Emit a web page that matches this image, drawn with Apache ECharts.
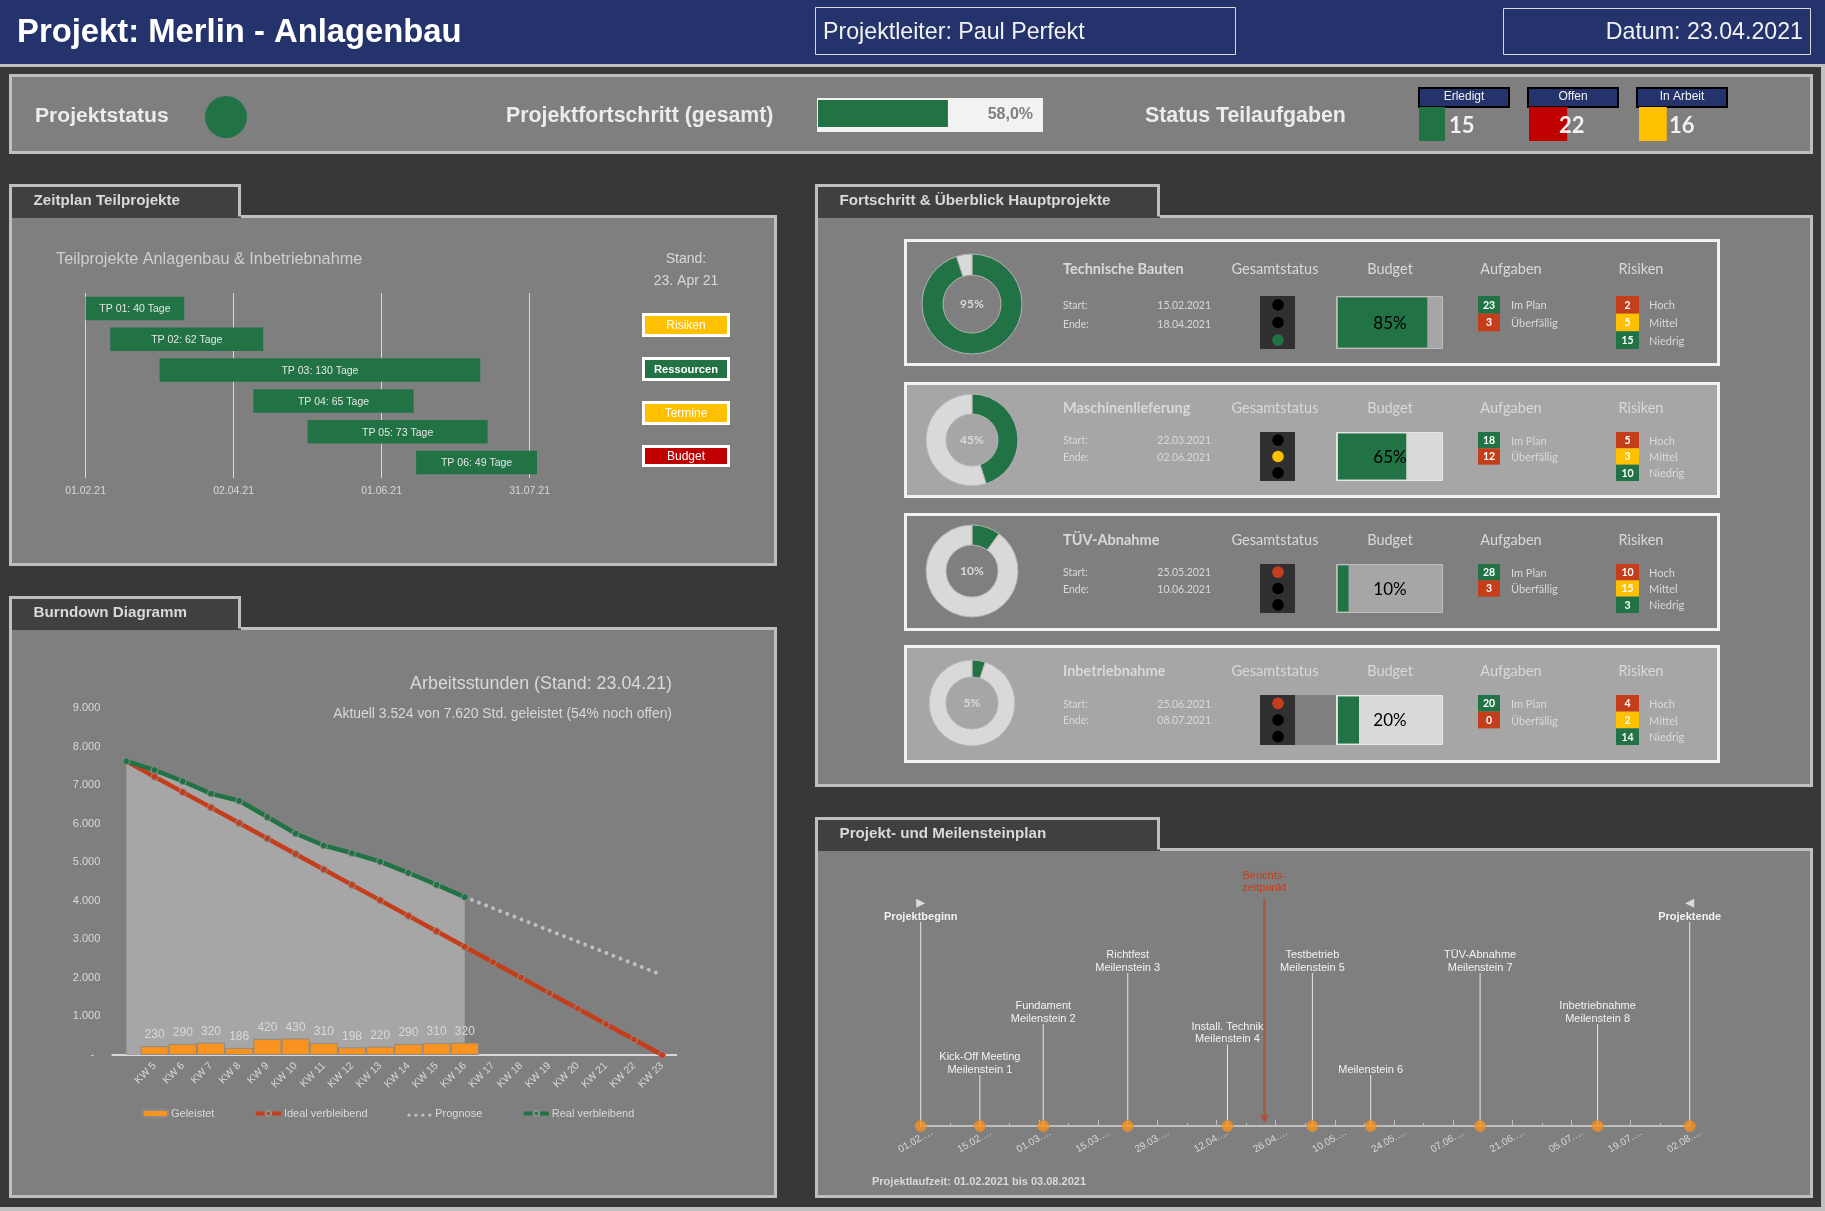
<!DOCTYPE html>
<html>
<head>
<meta charset="utf-8">
<style>
html, body { margin: 0; padding: 0; background: #383838; }
#main { width: 1825px; height: 1211px; }
</style>
<script src="https://cdn.jsdelivr.net/npm/echarts@6/dist/echarts.min.js"></script>
</head>
<body>
<div id="main"></div>
<script>
// Kopfzeile
const projectProgress = 58;
const taskNames = ['Erledigt', 'Offen', 'In Arbeit'];
const taskValues = [15, 22, 16];
const taskTotal = 53;

// Zeitplan
const ganttNames = ['TP 01', 'TP 02', 'TP 03', 'TP 04', 'TP 05', 'TP 06'];
const ganttStart = [0, 10, 30, 68, 90, 134];
const ganttDays = [40, 62, 130, 65, 73, 49];
const ganttTicks = ['01.02.21', '02.04.21', '01.06.21', '31.07.21'];
const ganttTags = ['Risiken', 'Ressourcen', 'Termine', 'Budget'];

// Burndown
const weeks = ['', 'KW 5', 'KW 6', 'KW 7', 'KW 8', 'KW 9', 'KW 10', 'KW 11', 'KW 12', 'KW 13', 'KW 14', 'KW 15', 'KW 16', 'KW 17', 'KW 18', 'KW 19', 'KW 20', 'KW 21', 'KW 22', 'KW 23'];
const doneHours = [null, 230, 290, 320, 186, 420, 430, 310, 198, 220, 290, 310, 320];
const idealHours = [7620, 7219, 6818, 6417, 6016, 5615, 5214, 4813, 4412, 4011, 3610, 3209, 2808, 2407, 2006, 1605, 1204, 803, 402, 0];
const realHours = [7620, 7390, 7100, 6780, 6594, 6174, 5744, 5434, 5236, 5016, 4726, 4416, 4096];
const forecastHours = [null, null, null, null, null, null, null, null, null, null, null, null, 4096, 3807, 3518, 3230, 2941, 2652, 2363, 2075];

// Hauptprojekte
const cardNames = ['Technische Bauten', 'Maschinenlieferung', 'TÜV-Abnahme', 'Inbetriebnahme'];
const cardStart = ['15.02.2021', '22.03.2021', '25.05.2021', '25.06.2021'];
const cardEnd = ['18.04.2021', '02.06.2021', '10.06.2021', '08.07.2021'];
const cardProgress = [95, 45, 10, 5];
const cardLight = [2, 1, 0, 0];
const cardBudget = [85, 65, 10, 20];
const tasksPlan = [23, 18, 28, 20];
const tasksLate = [3, 12, 3, 0];
const riskHigh = [2, 5, 10, 4];
const riskMid = [5, 3, 15, 2];
const riskLow = [15, 10, 3, 14];

// Meilensteine
const msDays = [0, 14, 29, 49, 72.6, 92.7, 106.5, 132.4, 160.2, 182];
const msLevels = [4, 1, 2, 3, 1.6, 3, 1, 3, 2, 4];
const msLabels = ['Projektbeginn', 'Kick-Off Meeting\nMeilenstein 1', 'Fundament\nMeilenstein 2', 'Richtfest\nMeilenstein 3', 'Install. Technik\nMeilenstein 4', 'Testbetrieb\nMeilenstein 5', 'Meilenstein 6', 'TÜV-Abnahme\nMeilenstein 7', 'Inbetriebnahme\nMeilenstein 8', 'Projektende'];
const msTicks = ['01.02.…', '15.02.…', '01.03.…', '15.03.…', '29.03.…', '12.04.…', '26.04.…', '10.05.…', '24.05.…', '07.06.…', '21.06.…', '05.07.…', '19.07.…', '02.08.…'];
const reportDay = 81.3;

const GREEN = '#217346', RED = '#c43e1c', DARKRED = '#c00000', YELLOW = '#ffc000', ORANGE = '#f7931e';
const NAVY = '#24336b', LINE = '#bfbfbf', PANEL = '#7f7f7f', SHADE = '#a6a6a6', TEXT = '#d9d9d9';
const ARIAL = '"Liberation Sans", Arial, sans-serif';
const CALIBRI = 'Lato, "Noto Sans", sans-serif';

let grids = [], xAxes = [], yAxes = [], series = [], gfx = [];

function rect(x, y, w, h, fill, stroke, lw, z) {
    gfx.push({
        type: 'rect', silent: true, z: z || 0,
        shape: { x: x, y: y, width: w, height: h },
        style: { fill: fill, stroke: stroke || null, lineWidth: lw || 0 }
    });
}
function txt(x, y, text, size, o) {
    o = o || {};
    gfx.push({
        type: 'text', silent: true, z: 60, x: x, y: y,
        style: {
            text: text, fontSize: size, fill: o.color || TEXT, fontWeight: o.weight || 'normal',
            fontFamily: o.font || ARIAL, align: o.align || 'left', verticalAlign: 'middle'
        }
    });
}
function panel(x1, y1, x2, y2, tabW, title) {
    let tabH = 31;
    rect(x1 + 1.5, y1 + 1.5, x2 - x1 - 3, y2 - y1 - 3, PANEL, LINE, 3);
    if (!title) return;
    rect(x1, y1 - tabH, tabW, tabH + 3, '#404040');
    gfx.push({
        type: 'polyline', silent: true, z: 1,
        shape: { points: [[x1 + 1.5, y1 + 3], [x1 + 1.5, y1 - tabH + 1.5], [x1 + tabW - 1.5, y1 - tabH + 1.5], [x1 + tabW - 1.5, y1 + 1.5]] },
        style: { stroke: LINE, lineWidth: 3, fill: null }
    });
    txt(x1 + 24.5, y1 - tabH / 2 + 1, title, 15.2, { weight: 'bold' });
}
// kleiner waagerechter Balken mit eigener Achse
function miniBar(x, y, w, h, value, max, color, label) {
    let i = grids.length;
    grids.push({ left: x, top: y, width: w, height: h, show: false });
    xAxes.push({ type: 'value', gridIndex: i, min: 0, max: max, show: false });
    yAxes.push({ type: 'category', gridIndex: i, data: [''], show: false });
    series.push({
        type: 'bar', xAxisIndex: i, yAxisIndex: i, silent: true, z: 3, barWidth: h,
        data: [value], itemStyle: { color: color }, label: label || { show: false }
    });
}

function buildHeader() {
    rect(0, 0, 1825, 64, NAVY);
    rect(0, 64, 1825, 3, LINE);
    rect(1821, 67, 4, 1144, LINE);
    rect(0, 1207, 1825, 4, LINE);
    txt(17, 33, 'Projekt: Merlin - Anlagenbau', 32.8, { color: '#fff', weight: 'bold' });
    rect(815.5, 7.5, 420, 47, null, TEXT, 1);
    txt(823, 33, 'Projektleiter: Paul Perfekt', 23.2, { color: '#f2f2f2' });
    rect(1503.5, 8.5, 307, 46, null, TEXT, 1);
    txt(1803, 33, 'Datum: 23.04.2021', 23.2, { color: '#f2f2f2', align: 'right' });

    panel(9, 74, 1813, 154);
    txt(35, 116, 'Projektstatus', 21.1, { weight: 'bold', color: '#ececec' });
    gfx.push({ type: 'circle', silent: true, z: 2, shape: { cx: 226, cy: 117, r: 21 }, style: { fill: GREEN } });
    txt(506, 116, 'Projektfortschritt (gesamt)', 21.3, { weight: 'bold', color: '#ececec' });
    rect(817, 98, 226, 34, '#f2f2f2');
    miniBar(818, 100, 224, 27, projectProgress, 100, GREEN);
    txt(1033, 115, projectProgress + ',0%', 16, { weight: 'bold', color: PANEL, align: 'right' });
    txt(1145, 116, 'Status Teilaufgaben', 21.3, { weight: 'bold', color: '#ececec' });

    let colors = [GREEN, DARKRED, YELLOW];
    let heads = [1419, 1528, 1637];
    let lefts = [1419, 1529, 1639];
    taskNames.forEach((name, i) => {
        rect(heads[i], 88, 90, 19, NAVY, '#000', 2);
        txt(heads[i] + 45, 97, name, 12, { color: '#f2f2f2', align: 'center' });
        miniBar(lefts[i], 107, 92, 34, taskValues[i], taskTotal, colors[i], {
            show: true, position: 'insideLeft', offset: [25, 2], color: '#f2f2f2',
            fontFamily: CALIBRI, fontWeight: 'bold', fontSize: 22
        });
    });
}

function buildGantt() {
    panel(9, 215, 777, 566, 232, 'Zeitplan Teilprojekte');
    txt(56, 260, 'Teilprojekte Anlagenbau & Inbetriebnahme', 16.25, { color: '#cfcfcf' });
    txt(686, 259, 'Stand:', 14, { align: 'center' });
    txt(686, 281, '23. Apr 21', 14, { align: 'center' });
    let fills = [YELLOW, GREEN, YELLOW, DARKRED];
    let tops = [313, 357, 401, 445];
    let heights = [24, 24, 24, 22];
    ganttTags.forEach((t, i) => {
        rect(643.5, tops[i] + 1.5, 85, heights[i] - 3, fills[i], '#fff', 3, 2);
        txt(686, tops[i] + heights[i] / 2 + 0.5, t, i == 1 ? 11.2 : 12, { color: '#fff', align: 'center', weight: i == 1 ? 'bold' : 'normal' });
    });

    let i = grids.length;
    grids.push({ left: 85.6, top: 293, width: 444, height: 185, show: false });
    xAxes.push({
        type: 'value', gridIndex: i, min: 0, max: 180, interval: 60, position: 'bottom',
        axisLine: { show: false }, axisTick: { show: false },
        splitLine: { show: true, lineStyle: { color: TEXT, width: 1 } },
        axisLabel: { color: TEXT, fontSize: 10.5, fontFamily: ARIAL, margin: 8, formatter: v => ganttTicks[v / 60] }
    });
    yAxes.push({ type: 'category', gridIndex: i, inverse: true, data: ganttNames, show: false });
    series.push({
        type: 'bar', xAxisIndex: i, yAxisIndex: i, stack: 'gantt', silent: true, barWidth: 23.5, clip: false,
        data: ganttStart, itemStyle: { color: 'transparent' }
    });
    series.push({
        type: 'bar', xAxisIndex: i, yAxisIndex: i, stack: 'gantt', silent: true, barWidth: 23.5, clip: false,
        data: ganttDays, itemStyle: { color: GREEN },
        label: {
            show: true, position: 'inside', offset: [0, 1], color: '#e6e6e6', fontSize: 10.5, fontFamily: ARIAL,
            formatter: p => ganttNames[p.dataIndex] + ': ' + p.value + ' Tage'
        }
    });
}

function buildBurndown() {
    panel(9, 627, 777, 1198, 232, 'Burndown Diagramm');
    txt(672, 684, 'Arbeitsstunden (Stand: 23.04.21)', 17.85, { align: 'right' });
    txt(672, 714, 'Aktuell 3.524 von 7.620 Std. geleistet (54% noch offen)', 13.9, { align: 'right' });

    let i = grids.length;
    grids.push({ left: 112.3, top: 708, width: 564, height: 347, show: false });
    xAxes.push({
        type: 'category', gridIndex: i, data: weeks,
        axisLine: { show: true, lineStyle: { color: TEXT, width: 2 } },
        axisTick: { show: false },
        axisLabel: { color: TEXT, fontSize: 10.5, fontFamily: ARIAL, rotate: 45, margin: 9, interval: 0 }
    });
    yAxes.push({
        type: 'value', gridIndex: i, min: 0, max: 9000, interval: 1000,
        axisLine: { show: false }, axisTick: { show: false }, splitLine: { show: false },
        axisLabel: {
            color: TEXT, fontSize: 11, fontFamily: ARIAL, margin: 12,
            formatter: v => v == 0 ? '-  ' : (v / 1000).toFixed(3)
        }
    });
    let lineDefaults = { type: 'line', xAxisIndex: i, yAxisIndex: i, silent: true, smooth: false };
    series.push(Object.assign({}, lineDefaults, {
        name: 'Fläche', data: realHours, showSymbol: false, z: 1,
        lineStyle: { width: 0 }, areaStyle: { color: SHADE, opacity: 1 }
    }));
    series.push({
        name: 'Geleistet', type: 'bar', xAxisIndex: i, yAxisIndex: i, silent: true, z: 2,
        barCategoryGap: '0%', data: doneHours,
        itemStyle: { color: ORANGE, borderColor: '#8a8a8a', borderWidth: 1 },
        label: { show: true, position: 'top', color: TEXT, fontSize: 12, fontFamily: ARIAL }
    });
    series.push(Object.assign({}, lineDefaults, {
        name: 'Ideal verbleibend', data: idealHours, z: 3, symbol: 'circle', symbolSize: 7,
        lineStyle: { color: RED, width: 4.5 }, itemStyle: { color: RED, borderColor: '#8f8f8f', borderWidth: 1 }
    }));
    series.push(Object.assign({}, lineDefaults, {
        name: 'Prognose', data: forecastHours, z: 3, symbol: 'none', connectNulls: false,
        lineStyle: { color: LINE, width: 4, type: [0.01, 7.6], cap: 'round' }, itemStyle: { color: LINE }
    }));
    series.push(Object.assign({}, lineDefaults, {
        name: 'Real verbleibend', data: realHours, z: 4, symbol: 'circle', symbolSize: 7,
        lineStyle: { color: GREEN, width: 4.5 }, itemStyle: { color: GREEN, borderColor: '#8f8f8f', borderWidth: 1 }
    }));
}

function buildCards() {
    panel(815, 215, 1813, 787, 345, 'Fortschritt & Überblick Hauptprojekte');
    let tops = [239, 382, 513, 645];
    let bottoms = [366, 498, 631, 763];
    let blockY = [296, 432, 564, 695];
    let blockH = [53, 49, 49, 50];
    let nameY = [269, 408, 540, 671];
    let startY = [305, 440, 572, 704];
    let endY = [324, 457, 589, 720];
    let donutY = [304, 440, 571, 703];
    let outer = [50, 46, 46, 43];
    let inner = [29, 26, 26, 26];
    let lightColors = [RED, YELLOW, GREEN];

    cardNames.forEach((name, c) => {
        let light = c % 2 == 1;
        let by = blockY[c], bh = blockH[c], row = bh / 3;
        rect(905.5, tops[c] + 1.5, 813, bottoms[c] - tops[c] - 3, light ? SHADE : PANEL, '#f2f2f2', 3);

        series.push({
            type: 'pie', silent: true, z: 3, center: [972, donutY[c]], radius: [inner[c], outer[c]],
            startAngle: 90, labelLine: { show: false },
            itemStyle: { borderColor: '#b3b3b3', borderWidth: 1 },
            data: [
                {
                    value: cardProgress[c], itemStyle: { color: GREEN },
                    label: { show: true, position: 'center', formatter: cardProgress[c] + '%', color: TEXT, fontSize: 12, fontWeight: 'bold', fontFamily: CALIBRI }
                },
                { value: 100 - cardProgress[c], itemStyle: { color: TEXT }, label: { show: false } }
            ]
        });

        txt(1063, nameY[c], name, 14.5, { font: CALIBRI, weight: 'bold' });
        txt(1275, nameY[c], 'Gesamtstatus', 14.5, { font: CALIBRI, align: 'center' });
        txt(1390, nameY[c], 'Budget', 14.5, { font: CALIBRI, align: 'center' });
        txt(1511, nameY[c], 'Aufgaben', 14.5, { font: CALIBRI, align: 'center' });
        txt(1641, nameY[c], 'Risiken', 14.5, { font: CALIBRI, align: 'center' });

        txt(1063, startY[c] + 1, 'Start:', 10.5, { font: CALIBRI });
        txt(1063, endY[c] + 1, 'Ende:', 10.5, { font: CALIBRI });
        txt(1211, startY[c] + 1, cardStart[c], 10.5, { font: CALIBRI, align: 'right' });
        txt(1211, endY[c] + 1, cardEnd[c], 10.5, { font: CALIBRI, align: 'right' });

        // Ampel
        rect(1260, by, 35, bh, '#303030', null, 0, 2);
        if (c == 3) rect(1295, by, 41, bh, PANEL, null, 0, 1);
        for (let k = 0; k < 3; k++) {
            gfx.push({
                type: 'circle', silent: true, z: 3,
                shape: { cx: 1278, cy: by + (k + 0.5) * row, r: 5.8 },
                style: { fill: k == cardLight[c] ? lightColors[k] : '#000' }
            });
        }

        // Budget
        rect(1336.5, by + 0.5, 106, bh - 1, light ? TEXT : SHADE, light ? '#e6e6e6' : LINE, 1, 1);
        miniBar(1338, by + 1.5, 105, bh - 3, cardBudget[c], 100, GREEN);
        txt(1390, by + bh / 2 + 1, cardBudget[c] + '%', 17, { font: CALIBRI, color: '#000', align: 'center' });

        // Aufgaben
        let planRows = [tasksPlan[c], tasksLate[c]];
        ['Im Plan', 'Überfällig'].forEach((t, k) => {
            rect(1478, by + k * row, 22, row, k == 0 ? GREEN : RED, null, 0, 2);
            txt(1489, by + (k + 0.5) * row + 0.5, String(planRows[k]), 10.5, { font: CALIBRI, color: '#fff', weight: 'bold', align: 'center' });
            txt(1511, by + (k + 0.5) * row + 1, t, 11, { font: CALIBRI });
        });

        // Risiken
        let riskRows = [riskHigh[c], riskMid[c], riskLow[c]];
        ['Hoch', 'Mittel', 'Niedrig'].forEach((t, k) => {
            rect(1616, by + k * row, 23, row, [RED, YELLOW, GREEN][k], null, 0, 2);
            txt(1627.5, by + (k + 0.5) * row + 0.5, String(riskRows[k]), 10.5, { font: CALIBRI, color: '#fff', weight: 'bold', align: 'center' });
            txt(1649, by + (k + 0.5) * row + 1, t, 11, { font: CALIBRI });
        });
    });
}

function buildTimeline() {
    panel(815, 848, 1813, 1198, 345, 'Projekt- und Meilensteinplan');
    txt(872, 1182, 'Projektlaufzeit: 01.02.2021 bis 03.08.2021', 11, { weight: 'bold' });

    let i = grids.length;
    grids.push({ left: 920.7, top: 871, width: 769, height: 255, show: false });
    xAxes.push({
        type: 'value', gridIndex: i, min: 0, max: 182, interval: 14,
        axisLine: { show: true, lineStyle: { color: LINE, width: 2 } },
        axisTick: { show: true, inside: true, length: 6, lineStyle: { color: LINE } },
        minorTick: { show: true, splitNumber: 2, length: 3, lineStyle: { color: LINE } },
        splitLine: { show: false },
        axisLabel: {
            color: TEXT, fontSize: 10, fontFamily: ARIAL, rotate: 30, margin: 12,
            align: 'center', verticalAlign: 'middle', padding: [0, 12, 0, 0],
            formatter: v => msTicks[v / 14]
        }
    });
    yAxes.push({ type: 'value', gridIndex: i, min: 0, max: 5, show: false });
    series.push({
        type: 'bar', xAxisIndex: i, yAxisIndex: i, silent: true, barWidth: 1, z: 2,
        data: msDays.map((d, k) => ({
            value: [d, msLevels[k]],
            label: { fontWeight: (k == 0 || k == msDays.length - 1) ? 'bold' : 'normal' }
        })),
        itemStyle: { color: '#e6e6e6' },
        label: {
            show: true, position: 'top', distance: -1, color: '#f2f2f2', fontSize: 11, lineHeight: 12.5,
            fontFamily: ARIAL, formatter: p => msLabels[p.dataIndex]
        }
    });
    // Dreiecke an Projektbeginn und Projektende
    series.push({
        type: 'scatter', xAxisIndex: i, yAxisIndex: i, silent: true, z: 4, symbol: 'triangle', symbolSize: 9,
        data: [
            { value: [msDays[0], 4.37], symbolRotate: -90 },
            { value: [msDays[msDays.length - 1], 4.37], symbolRotate: 90 }
        ],
        itemStyle: { color: '#f2f2f2' }
    });
    series.push({
        type: 'scatter', xAxisIndex: i, yAxisIndex: i, silent: true, z: 4, symbolSize: 11,
        data: msDays.map(d => [d, 0]),
        itemStyle: { color: ORANGE, borderColor: '#d98a35', borderWidth: 1 },
        markLine: {
            silent: true, symbol: ['none', 'arrow'], symbolSize: 8,
            lineStyle: { color: 'rgba(196,62,28,0.55)', width: 2.5, type: 'solid' },
            label: {
                show: true, position: 'start', formatter: 'Berichts-\nzeitpunkt', color: RED,
                fontSize: 11, lineHeight: 12, fontFamily: ARIAL
            },
            data: [[{ coord: [reportDay, 4.45] }, { coord: [reportDay, 0.08] }]]
        }
    });
}

function chart() {
    buildHeader();
    buildGantt();
    buildBurndown();
    buildCards();
    buildTimeline();

    let myChart = echarts.init(document.querySelector('#main'));
    let option = {
        animation: false,
        backgroundColor: '#383838',
        textStyle: { fontFamily: ARIAL },
        tooltip: { show: false },
        graphic: { elements: gfx },
        legend: {
            left: 137, top: 1103, itemWidth: 25, itemHeight: 7, itemGap: 39.5, selectedMode: false,
            lineStyle: { width: 4 },
            data: [
                'Geleistet',
                'Ideal verbleibend',
                {
                    name: 'Prognose', itemStyle: { borderWidth: 0 },
                    icon: 'path://M0 0L27 0M0 7L27 7M2 3.5a1.8 1.8 0 1 0 0.01 0zM9.5 3.5a1.8 1.8 0 1 0 0.01 0zM17 3.5a1.8 1.8 0 1 0 0.01 0zM24.5 3.5a1.8 1.8 0 1 0 0.01 0z'
                },
                'Real verbleibend'
            ],
            textStyle: { color: TEXT, fontSize: 11, fontFamily: ARIAL, padding: [0, 0, 0, -2] }
        },
        grid: grids,
        xAxis: xAxes,
        yAxis: yAxes,
        series: series
    };
    myChart.setOption(option);
}
chart();
</script>
</body>
</html>
